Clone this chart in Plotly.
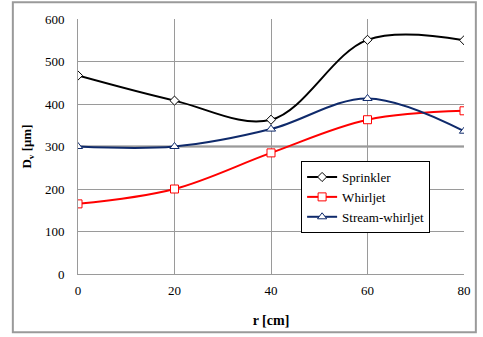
import plotly.graph_objects as go

r = [0, 20, 40, 60, 80]
sprinkler = [467, 408, 363, 551, 550]
whirljet = [165, 200, 285, 363, 384]
stream = [300, 300, 341, 413, 336]
x_ticks = [0, 20, 40, 60, 80]
y_ticks = [0, 100, 200, 300, 400, 500, 600]

FONT = "'Liberation Serif', 'DejaVu Serif', serif"
fig = go.Figure()
fig.add_trace(go.Scatter(x=r, y=sprinkler, name="Sprinkler", mode="lines+markers",
                         line=dict(color="black", width=2, shape="spline", smoothing=1),
                         marker=dict(symbol="diamond", size=7, color="white",
                                     line=dict(color="black", width=1))))
fig.add_trace(go.Scatter(x=r, y=whirljet, name="Whirljet", mode="lines+markers",
                         line=dict(color="#FF0000", width=2, shape="spline", smoothing=1),
                         marker=dict(symbol="square", size=8, color="white",
                                     line=dict(color="#FF0000", width=1))))
fig.add_trace(go.Scatter(x=r, y=stream, name="Stream-whirljet", mode="lines+markers",
                         line=dict(color="#0F2A6B", width=2, shape="spline", smoothing=1),
                         marker=dict(symbol="triangle-up", size=8, color="white",
                                     line=dict(color="#0F2A6B", width=1))))

fig.add_hline(y=300, line=dict(color="#808080", width=2), layer="below")
fig.add_shape(type="rect", xref="paper", yref="paper", x0=-0.1688, x1=1.0307,
              y0=-0.2287, y1=1.0659, line=dict(color="#9a9a9a", width=2))

fig.update_layout(
    width=483, height=337,
    margin=dict(l=78, r=14, t=19, b=60),
    paper_bgcolor="white", plot_bgcolor="white",
    font=dict(family=FONT, size=13, color="black"),
    showlegend=True,
    legend=dict(x=0.578, y=0.443, xanchor="left", yanchor="top",
                bordercolor="black", borderwidth=1, bgcolor="white",
                font=dict(family=FONT, size=13), tracegroupgap=0, itemwidth=30),
    xaxis=dict(range=[0, 80], tickvals=x_ticks, showgrid=True, gridcolor="#9a9a9a",
               gridwidth=1, showline=True, linecolor="#9a9a9a", zeroline=False,
               ticks="", ticklen=0, title=dict(text="<b>r [cm]</b>", standoff=18,
               font=dict(family=FONT, size=14)),
               tickfont=dict(family=FONT, size=13)),
    yaxis=dict(range=[0, 600], tickvals=y_ticks, showgrid=True, gridcolor="#9a9a9a",
               gridwidth=1, showline=True, linecolor="#9a9a9a", zeroline=False,
               ticks="", title=dict(text="<b>D<sub>v</sub> [μm]</b>", standoff=10,
               font=dict(family=FONT, size=13)),
               tickfont=dict(family=FONT, size=13)),
)
fig.update_xaxes(ticklabelstandoff=4)
fig.update_yaxes(ticklabelstandoff=10)
fig.write_html("out.html")
